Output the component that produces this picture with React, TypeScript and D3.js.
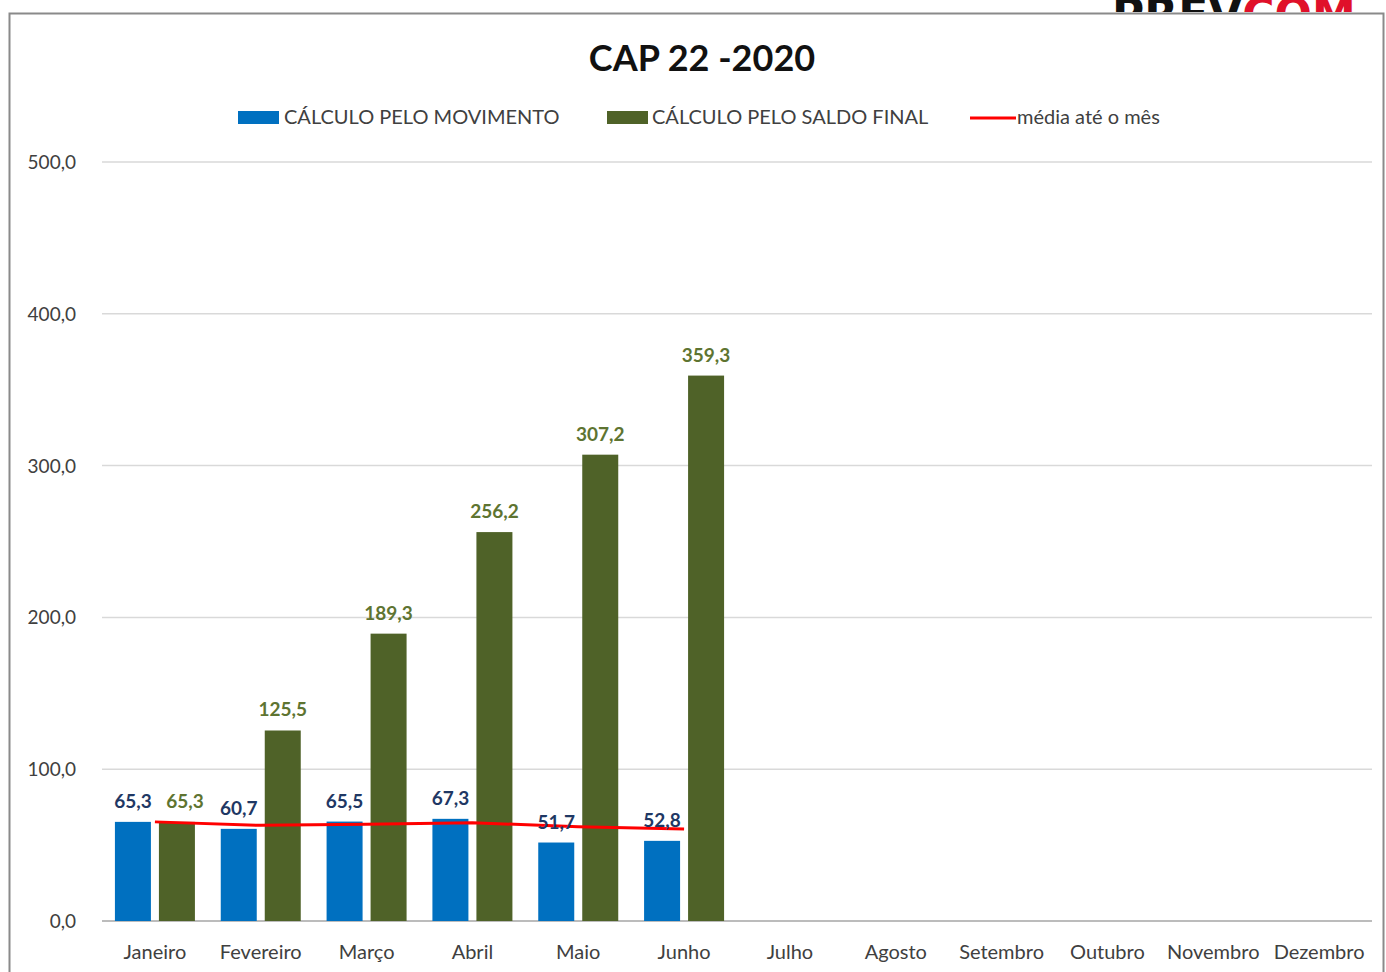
import React from "react";
import * as d3 from "d3";

const months = ["Janeiro", "Fevereiro", "Março", "Abril", "Maio", "Junho", "Julho", "Agosto", "Setembro", "Outubro", "Novembro", "Dezembro"];
const movimento = [65.3, 60.7, 65.5, 67.3, 51.7, 52.8];
const saldoFinal = [65.3, 125.5, 189.3, 256.2, 307.2, 359.3];
const mediaMes = [65.3, 63.0, 63.8, 64.7, 62.1, 60.6];
const yTicks = [0, 100, 200, 300, 400, 500];

const W = 1386, H = 972;
const font = "Lato, 'Open Sans', sans-serif";
const fmt = (v: number) => v.toFixed(1).replace(".", ",");

export default function App() {
  const x = d3.scaleBand<string>().domain(months).range([102, 1372]);
  const y = d3.scaleLinear().domain([0, 500]).range([921, 162]);
  const bw = 36, gap = 8;
  const blueX = (i: number) => x(months[i])! + x.bandwidth() / 2 - gap / 2 - bw;
  const greenX = (i: number) => x(months[i])! + x.bandwidth() / 2 + gap / 2;
  const line = d3.line<number>()
    .x((_, i) => x(months[i])! + x.bandwidth() / 2)
    .y((d) => y(d));

  return (
    <svg width={W} height={H} style={{ position: "absolute", left: 0, top: 0, background: "#fff" }}>
      {/* logo cut off at top */}
      <clipPath id="logoclip"><rect x={0} y={0} width={W} height={12} /></clipPath>
      <text x={1112} y={30} fontFamily="'DejaVu Sans', sans-serif" fontWeight="bold" fontSize={44} clipPath="url(#logoclip)">
        <tspan fill="#111">PREV</tspan><tspan fill="#e0102a">COM</tspan>
      </text>
      <rect x={9.5} y={13.5} width={1374} height={980} fill="none" stroke="#8a8a8a" strokeWidth={2} />

      <text x={702} y={71} textAnchor="middle" fontFamily={font} fontWeight="bold" fontSize={36} fill="#111">CAP 22 -2020</text>

      {/* legend */}
      <g fontFamily={font} fontSize={20} fill="#404040">
        <rect x={238} y={111} width={41} height={13} fill="#0070C0" />
        <text x={284} y={124}>CÁLCULO PELO MOVIMENTO</text>
        <rect x={607} y={111} width={41} height={13} fill="#4F6228" />
        <text x={652} y={124}>CÁLCULO PELO SALDO FINAL</text>
        <line x1={970} x2={1016} y1={118} y2={118} stroke="#FF0000" strokeWidth={3} />
        <text x={1017} y={124}>média até o mês</text>
      </g>

      {/* grid + y axis */}
      {yTicks.map((t) => (
        <g key={t}>
          <line x1={102} x2={1372} y1={y(t)} y2={y(t)} stroke={t === 0 ? "#a6a6a6" : "#d9d9d9"} strokeWidth={1.5} />
          <text x={76} y={y(t) + 7} textAnchor="end" fontFamily={font} fontSize={19} fill="#404040">{fmt(t)}</text>
        </g>
      ))}

      {/* x labels */}
      {months.map((m) => (
        <text key={m} x={x(m)! + x.bandwidth() / 2} y={959} textAnchor="middle" fontFamily={font} fontSize={20} fill="#404040">{m}</text>
      ))}

      {/* bars */}
      {movimento.map((v, i) => (
        <rect key={"b" + i} x={blueX(i)} y={y(v)} width={bw} height={y(0) - y(v)} fill="#0070C0" />
      ))}
      {saldoFinal.map((v, i) => (
        <rect key={"g" + i} x={greenX(i)} y={y(v)} width={bw} height={y(0) - y(v)} fill="#4F6228" />
      ))}

      {/* average line */}
      <path d={line(mediaMes)!} fill="none" stroke="#FF0000" strokeWidth={3} />

      {/* value labels */}
      {movimento.map((v, i) => (
        <text key={"bl" + i} x={blueX(i) + bw / 2} y={y(v) - 14} textAnchor="middle" fontFamily={font} fontWeight="bold" fontSize={19} fill="#1F3864">{fmt(v)}</text>
      ))}
      {saldoFinal.map((v, i) => (
        <text key={"gl" + i} x={greenX(i) + bw / 2 + (i === 0 ? 8 : 0)} y={y(v) - 14} textAnchor="middle" fontFamily={font} fontWeight="bold" fontSize={19} fill="#5E7431">{fmt(v)}</text>
      ))}
    </svg>
  );
}
